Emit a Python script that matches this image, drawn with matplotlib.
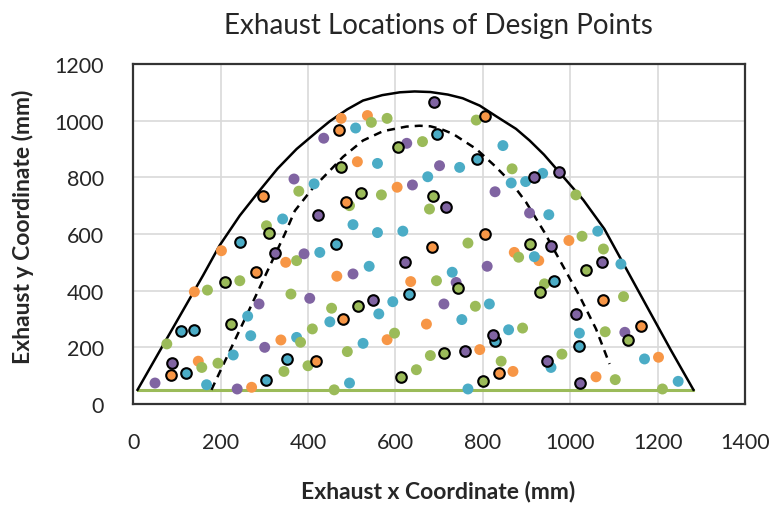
import matplotlib.pyplot as plt

plt.rcParams['font.family'] = ['Lato', 'DejaVu Sans']

# boundary curves (x, y in mm)
outer_x = [10, 60, 105, 160, 198, 244, 286, 330, 374, 420, 450, 490, 526, 570, 610, 644, 680, 720, 754, 793,
           831, 876, 907, 940, 975, 1030, 1078, 1130, 1179, 1230, 1282]
outer_y = [50, 185, 306, 454, 560, 665, 747, 830, 900, 960, 998, 1040, 1071, 1090, 1100, 1103, 1101, 1092, 1079, 1053,
           1015, 971, 930, 880, 818, 720, 618, 472, 334, 191, 50]

inner_x = [179, 263, 347, 370, 410, 454, 480, 526, 572, 625, 655, 680, 705, 732, 785, 827, 865, 899, 941,
           983, 1021, 1059, 1090]
inner_y = [50, 324, 600, 682, 760, 830, 872, 930, 963, 979, 982, 980, 970, 953, 900, 841, 782, 712, 606,
           488, 382, 265, 141]

base_x = [10, 1282]
base_y = [50, 50]

# design points, by colour; "_ol" = points drawn with a black outline
orange_x = [476, 536, 513, 604, 997, 928, 202, 349, 140, 466, 338, 149, 271, 635, 872, 671, 581, 793, 869, 1059, 1202]
orange_y = [1008, 1018, 855, 765, 577, 506, 541, 500, 396, 451, 226, 151, 59, 432, 535, 282, 227, 192, 115, 96, 165]
orange_ol_x = [472, 297, 804, 486, 804, 282, 86, 419, 684, 480, 838, 1076, 1162]
orange_ol_y = [966, 735, 1015, 714, 600, 465, 104, 151, 553, 300, 108, 368, 274]

blue_x = [509, 846, 559, 747, 865, 898, 674, 503, 559, 617, 937, 951, 1063, 414, 342, 427, 262, 450, 269,
          374, 229, 168, 540, 730, 918, 562, 594, 815, 752, 526, 859, 495, 766, 1116, 1021, 956, 1170, 1247]
blue_y = [974, 912, 849, 835, 780, 785, 802, 633, 605, 610, 814, 668, 610, 777, 653, 535, 310, 290, 241,
          235, 173, 68, 486, 465, 520, 318, 361, 353, 298, 214, 262, 74, 53, 494, 250, 129, 159, 80]
blue_ol_x = [696, 787, 244, 463, 109, 140, 351, 122, 305, 630, 828, 964, 1019]
blue_ol_y = [953, 865, 571, 565, 259, 262, 159, 109, 86, 388, 221, 435, 206]

green_x = [545, 581, 785, 662, 568, 495, 678, 867, 1013, 1027, 379, 305, 374, 244, 170, 361, 454, 410, 383,
           77, 157, 194, 345, 400, 460, 766, 882, 694, 783, 891, 598, 490, 680, 648, 842, 1076, 941, 1122,
           1080, 981, 1103, 1211]
green_y = [994, 1008, 1002, 926, 738, 700, 688, 830, 738, 592, 751, 629, 506, 435, 402, 388, 338, 265, 218,
           212, 129, 144, 115, 135, 50, 568, 518, 435, 345, 268, 250, 185, 171, 121, 151, 547, 424, 379,
           255, 176, 86, 53]
green_ol_x = [607, 476, 522, 686, 311, 211, 225, 743, 909, 930, 514, 711, 612, 800, 1036, 1133]
green_ol_y = [906, 835, 744, 733, 605, 432, 282, 408, 565, 397, 345, 179, 96, 80, 473, 226]

purple_x = [436, 626, 701, 639, 828, 907, 368, 391, 404, 288, 301, 50, 238, 503, 739, 810, 711, 1125]
purple_y = [938, 920, 841, 773, 749, 674, 794, 530, 373, 353, 200, 74, 53, 459, 429, 486, 353, 253]
purple_ol_x = [688, 918, 974, 716, 423, 324, 90, 621, 549, 823, 760, 955, 1073, 1013, 947, 1023]
purple_ol_y = [1067, 802, 820, 697, 668, 533, 144, 500, 367, 244, 186, 557, 500, 318, 151, 74]

colors = {"orange": "#F79646", "blue": "#4BACC6", "green": "#9BBB59", "purple": "#8064A2"}

fig = plt.figure(figsize=(7.76, 5.06), dpi=100)
ax = fig.add_axes([0.1716, 0.1996, 0.7885, 0.672])

ax.plot(base_x, base_y, color=colors["green"], lw=2.2, zorder=2)
ax.plot(outer_x, outer_y, color="black", lw=1.8, zorder=2)
ax.plot(inner_x, inner_y, color="black", lw=1.8, dashes=(3.2, 2.4), zorder=2)

groups = [
    (orange_x, orange_y, orange_ol_x, orange_ol_y, colors["orange"]),
    (blue_x, blue_y, blue_ol_x, blue_ol_y, colors["blue"]),
    (green_x, green_y, green_ol_x, green_ol_y, colors["green"]),
    (purple_x, purple_y, purple_ol_x, purple_ol_y, colors["purple"]),
]
for px, py, ox, oy, c in groups:
    ax.scatter(px, py, s=62, color=c, edgecolors="none", zorder=3)
    ax.scatter(ox, oy, s=58, color=c, edgecolors="black", linewidths=1.5, zorder=4)

ax.set_xlim(0, 1400)
ax.set_ylim(0, 1200)
ax.set_xticks(range(0, 1401, 200))
ax.set_yticks(range(0, 1201, 200))
ax.grid(True, color="#D9D9D9", lw=1.2)
ax.set_axisbelow(True)
ax.tick_params(length=0, labelsize=15.5, colors="#262626")
ax.tick_params(axis="x", pad=20)
ax.tick_params(axis="y", pad=21)
for s in ax.spines.values():
    s.set_color("#333333")
    s.set_linewidth(1.6)

fig.text(0.565, 0.933, "Exhaust Locations of Design Points", ha="center", va="baseline",
         fontsize=20, color="#262626")
fig.text(0.565, 0.028, "Exhaust x Coordinate (mm)", ha="center", va="center",
         fontsize=16.5, fontweight="bold", color="#262626")
fig.text(0.030, 0.552, "Exhaust y Coordinate (mm)", ha="center", va="center", rotation=90,
         fontsize=16.5, fontweight="bold", color="#262626")

plt.savefig("out.png", dpi=100)
